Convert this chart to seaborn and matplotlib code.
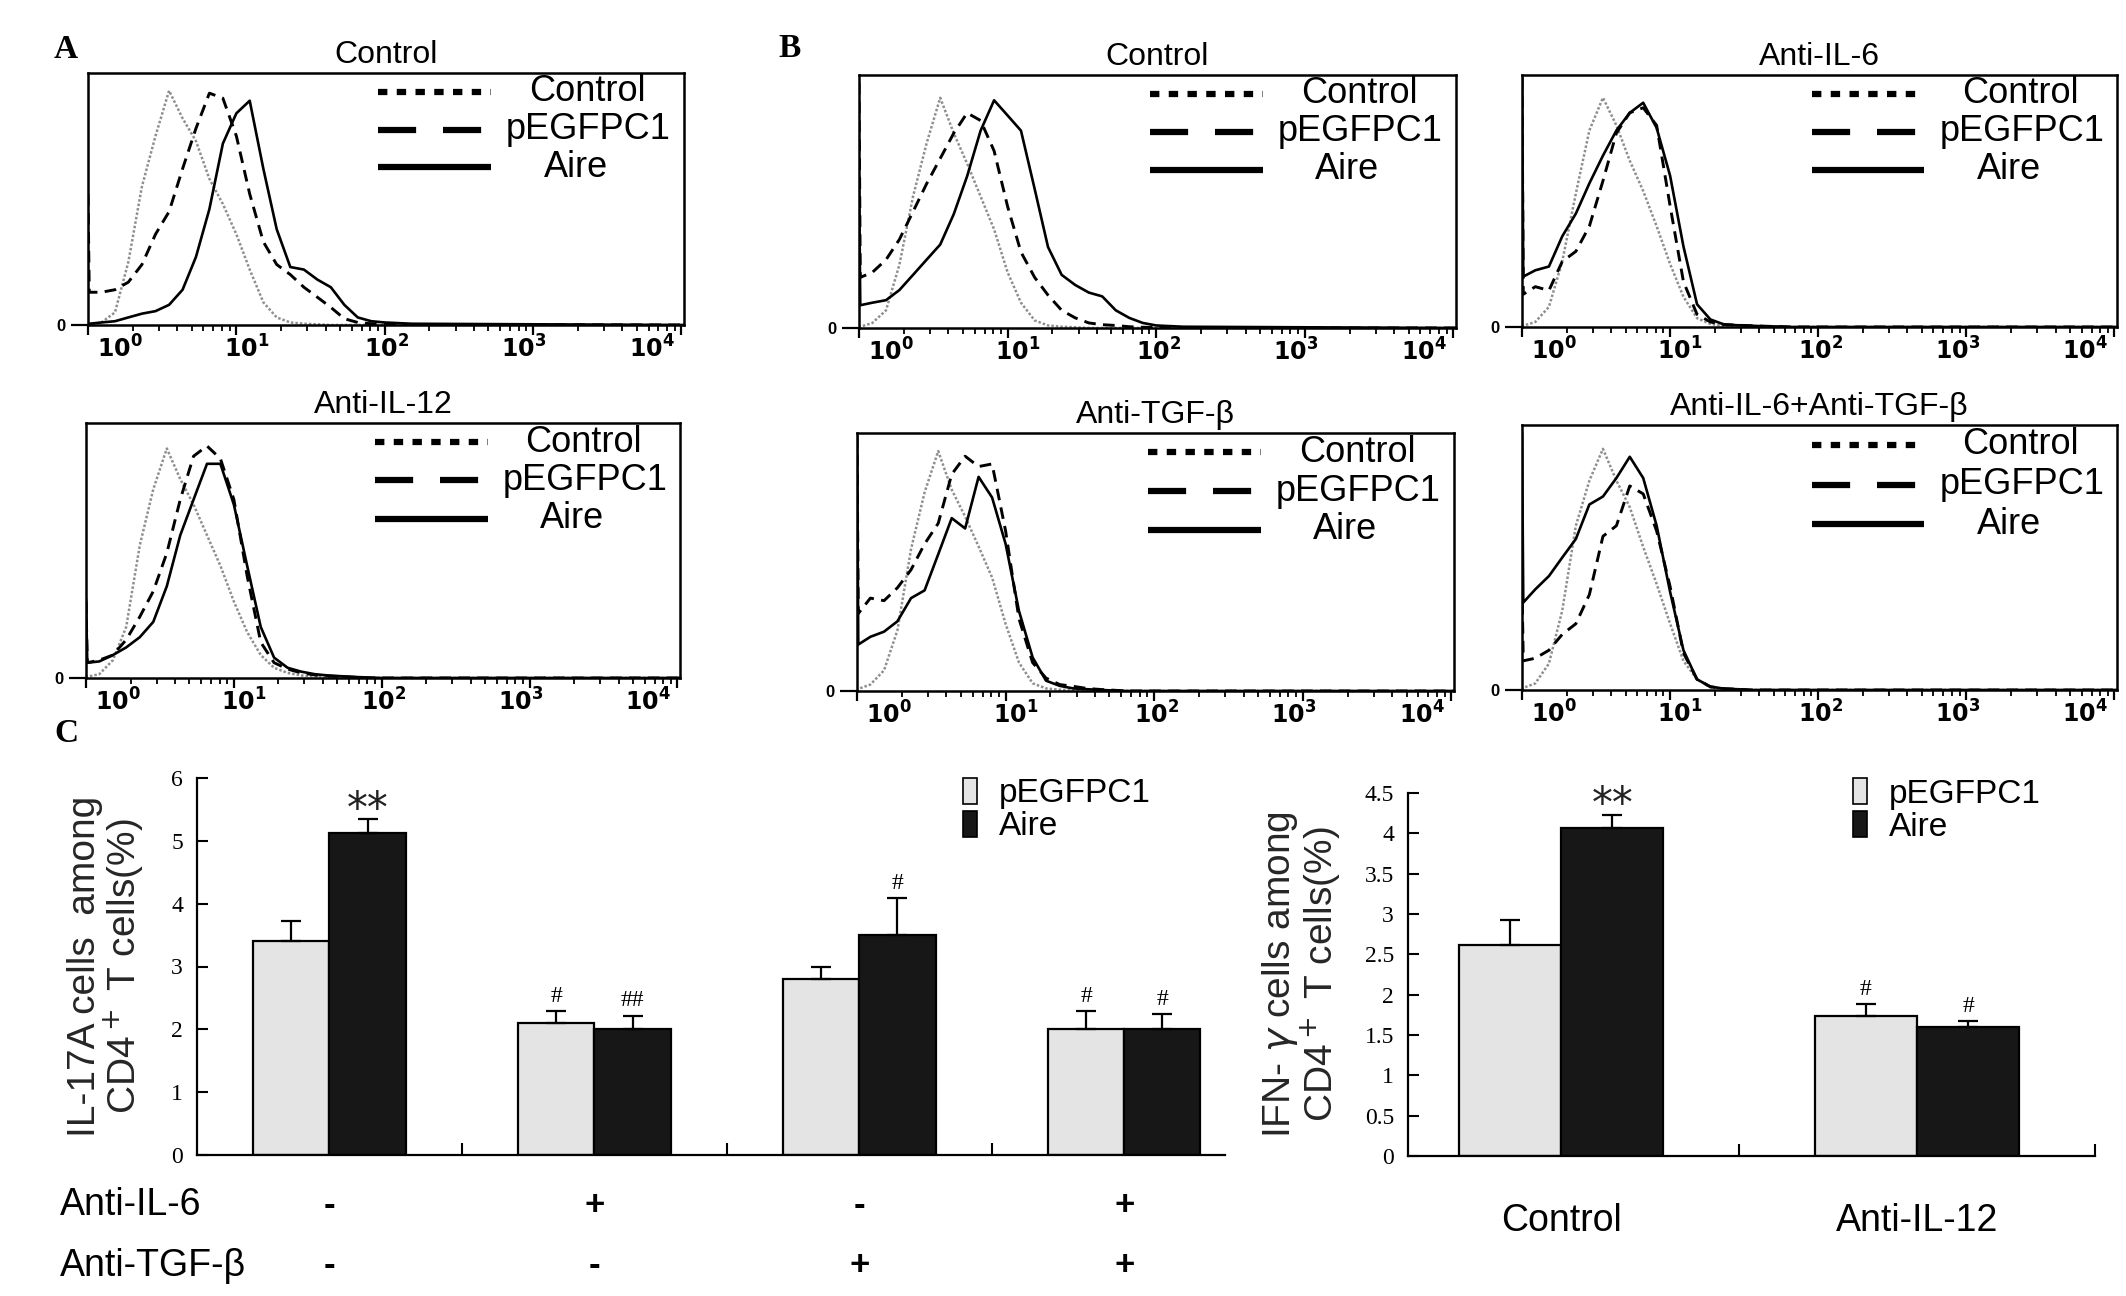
import numpy as np
import pandas as pd
import matplotlib
matplotlib.use('Agg')
import matplotlib.pyplot as plt
import matplotlib.ticker as mticker
import matplotlib.transforms as mtransforms
from matplotlib.lines import Line2D
from matplotlib.patches import Patch
import seaborn as sns

sns.set_theme(style='white')
plt.rcParams['font.family'] = ['Liberation Sans', 'DejaVu Sans']
plt.rcParams['mathtext.fontset'] = 'dejavusans'
plt.rcParams['text.color'] = 'black'
plt.rcParams['axes.edgecolor'] = 'black'
plt.rcParams['xtick.color'] = 'black'
plt.rcParams['ytick.color'] = 'black'

# ---- flow histograms: fluorescence channel grid (shared by all curves) ----
channels = [1.0, 1.02, 1.23, 1.52, 1.87, 2.31, 2.85, 3.52, 4.34, 5.34, 6.58, 8.11, 10.0,
            12.3, 15.2, 18.7, 23.1, 28.5, 35.2, 43.3, 53.4, 65.8, 81.1, 100, 152, 10400]
hist_ticks = [1, 10, 100, 1000, 10000]
hist_tick_labels = [r'$\mathbf{10^{0}}$', r'$\mathbf{10^{1}}$', r'$\mathbf{10^{2}}$',
                    r'$\mathbf{10^{3}}$', r'$\mathbf{10^{4}}$']

# A, Control
a1_control = [0, 0, 1, 5, 25, 55, 75, 93, 82, 73, 58, 48, 36, 22, 9, 3, 1, 0.5, 0.3, 0, 0, 0, 0, 0, 0, 0]
a1_pegfp = [52, 13, 13, 14, 17, 24, 36, 45, 62, 78, 92, 90, 75, 52, 33, 24, 20, 15, 11, 7, 2.5, 1, 0.5, 0.3, 0.2, 0]
a1_aire = [0, 0.5, 1, 1.5, 3, 4.5, 5.5, 8, 14, 27, 46, 72, 84, 89, 62, 38, 23, 22, 18, 15, 8, 3, 1.5, 1, 0.5, 0]
# A, Anti-IL-12
a2_control = [0, 0.5, 1.5, 7, 20, 52, 74, 90, 78, 68, 56, 44, 30, 18, 9, 4, 2, 1, 0.5, 0.3, 0, 0, 0, 0, 0, 0]
a2_pegfp = [30, 6, 7, 9, 15, 24, 34, 49, 70, 87, 91, 86, 70, 40, 14, 6, 3.5, 2, 1.2, 0.8, 0.5, 0.3, 0, 0, 0, 0]
a2_aire = [31, 6, 6.5, 9, 12, 16, 22, 36, 56, 70, 84, 84, 68, 44, 20, 8, 4, 2.5, 1.5, 1, 0.7, 0.4, 0.2, 0, 0, 0]
# B, Control
b1_control = [0, 0.5, 2, 7, 25, 52, 73, 91, 77, 65, 52, 39, 22, 10, 3, 1, 0.5, 0.3, 0, 0, 0, 0, 0, 0, 0, 0]
b1_pegfp = [97, 20, 22, 27, 35, 46, 57, 67, 77, 85, 82, 70, 48, 30, 20, 13, 7, 4, 2, 1.3, 1, 0.5, 0.3, 0.2, 0, 0]
b1_aire = [60, 9, 10, 11, 15, 21, 27, 33, 45, 60, 78, 90, 84, 78, 55, 32, 21, 17, 14, 12.5, 7, 4, 2, 1, 0.5, 0]
# B, Anti-IL-6
b2_control = [0, 0.5, 2, 8, 26, 53, 78, 91, 80, 66, 54, 40, 25, 12, 3.5, 1.2, 0.5, 0.3, 0, 0, 0, 0, 0, 0, 0, 0]
b2_pegfp = [99, 13, 16, 14.5, 26, 30, 40, 58, 77, 85, 87, 80, 48, 18, 5, 2, 1, 0.7, 0.5, 0.3, 0.2, 0, 0, 0, 0, 0]
b2_aire = [99, 20, 22.5, 24, 36, 45, 57, 68, 78, 85, 89, 79, 60, 32, 9, 3, 1, 0.7, 0.5, 0.3, 0.2, 0, 0, 0, 0, 0]
# B, Anti-TGF-beta
b3_control = [0, 0.8, 2.5, 8, 23.5, 55, 77, 93, 78, 67.6, 56, 44, 26, 11, 3, 1, 0.5, 0.3, 0, 0, 0, 0, 0, 0, 0, 0]
b3_pegfp = [99, 30, 36, 35, 40, 47, 57, 65, 84, 91, 87, 88, 62, 28, 11, 5, 2.5, 1.8, 1, 0.6, 0.3, 0, 0, 0, 0, 0]
b3_aire = [99, 18, 21, 23, 27, 36, 39, 53, 67, 63, 83, 75, 57, 31, 13, 4, 2, 1, 0.7, 0.4, 0.2, 0, 0, 0, 0, 0]
# B, Anti-IL-6 + Anti-TGF-beta
b4_control = [0, 0.8, 2.5, 10, 30, 62, 79, 91, 79, 69, 54, 40, 25, 11, 4, 1, 0.4, 0.2, 0, 0, 0, 0, 0, 0, 0, 0]
b4_pegfp = [40, 11, 12, 15, 21, 25, 36, 58, 62, 77, 74, 60, 39, 14, 4, 1.2, 0.5, 0.3, 0, 0, 0, 0, 0, 0, 0, 0]
b4_aire = [97, 33, 38, 43, 50, 57, 70, 73, 80, 88, 80, 62, 37, 15, 4, 1.3, 0.5, 0.3, 0, 0, 0, 0, 0, 0, 0, 0]

legend_labels = ['Control', 'pEGFPC1', 'Aire']

# ---- C: bar charts ----
il17_groups = ['-/-', '+/-', '-/+', '+/+']
il17_peg = [3.4, 2.1, 2.8, 2.0]
il17_peg_err = [0.33, 0.19, 0.2, 0.29]
il17_aire = [5.12, 2.0, 3.5, 2.0]
il17_aire_err = [0.22, 0.22, 0.59, 0.24]
il17_marks_peg = ['', '#', '', '#']
il17_marks_aire = ['**', '##', '#', '#']
anti_il6 = ['-', '+', '-', '+']
anti_tgf = ['-', '-', '+', '+']

ifn_groups = ['Control', 'Anti-IL-12']
ifn_peg = [2.61, 1.73]
ifn_peg_err = [0.31, 0.15]
ifn_aire = [4.07, 1.60]
ifn_aire_err = [0.16, 0.07]
ifn_marks_peg = ['', '#']
ifn_marks_aire = ['**', '#']

W, H = 2126, 1296
fig = plt.figure(figsize=(W / 100, H / 100), dpi=100)


def rect(x0, x1, ytop, ybot):
    return [x0 / W, 1 - ybot / H, (x1 - x0) / W, (ybot - ytop) / H]


# the exported decade labels sit a little off their ticks (pixels)
label_shift = [32, 10, 2, -9, -30]


def draw_hist(ax, title, control, pegfp, aire):
    df = pd.DataFrame({'channel': channels, 'Control': control,
                       'pEGFPC1': pegfp, 'Aire': aire})
    ax.set_xscale('log')
    sns.lineplot(data=df, x='channel', y='Control', ax=ax, color='#8f8f8f',
                 linewidth=1.8, linestyle=(0, (1, 0.8)))
    sns.lineplot(data=df, x='channel', y='pEGFPC1', ax=ax, color='black',
                 linewidth=2.1, linestyle=(0, (4, 2.5)))
    sns.lineplot(data=df, x='channel', y='Aire', ax=ax, color='black', linewidth=1.9)
    ax.set_xlim(channels[0], channels[-1])
    ax.set_ylim(0, 100)
    ax.set_xlabel('')
    ax.set_ylabel('')
    ax.set_title(title, fontsize=23, pad=7)
    ax.xaxis.set_major_locator(mticker.FixedLocator(hist_ticks))
    ax.xaxis.set_minor_locator(mticker.LogLocator(base=10, subs=range(2, 10)))
    ax.xaxis.set_major_formatter(mticker.NullFormatter())
    ax.xaxis.set_minor_formatter(mticker.NullFormatter())
    ax.tick_params(axis='x', which='major', direction='out', bottom=True,
                   length=7, width=1.6)
    ax.tick_params(axis='x', which='minor', direction='out', bottom=True,
                   length=4, width=1.3)
    tr = mtransforms.blended_transform_factory(ax.transData, ax.transAxes)
    for t, lab, dx in zip(hist_ticks, hist_tick_labels, label_shift):
        off = mtransforms.offset_copy(tr, fig=fig, x=dx, y=-10, units='dots')
        ax.text(t, 0, lab, transform=off, ha='center', va='top', fontsize=17)
    ax.set_yticks([0])
    ax.set_yticklabels(['0'], fontsize=12, fontweight='bold')
    ax.tick_params(axis='y', direction='out', left=True, length=12, width=1.6, pad=4)
    for sp in ax.spines.values():
        sp.set_visible(True)
        sp.set_linewidth(1.8)
        sp.set_color('black')
    styles = [dict(linestyle=(0, (1.5, 1.5))), dict(linestyle=(0, (6.1, 4.3))),
              dict(linestyle='-')]
    rows = [0.925, 0.775, 0.625]
    text_x = [0.838, 0.84, 0.818]
    for yy, tx, lab, st in zip(rows, text_x, legend_labels, styles):
        ax.add_line(Line2D([0.487, 0.676], [yy, yy], transform=ax.transAxes,
                           color='black', linewidth=4.5, dash_capstyle='butt',
                           solid_capstyle='butt', **st))
        ax.text(tx, yy, lab, transform=ax.transAxes, ha='center', va='center',
                fontsize=26)


hist_panels = [
    ('Control', rect(88, 684, 73, 325), a1_control, a1_pegfp, a1_aire),
    ('Anti-IL-12', rect(86, 680, 423, 678), a2_control, a2_pegfp, a2_aire),
    ('Control', rect(859, 1456, 75, 328), b1_control, b1_pegfp, b1_aire),
    ('Anti-IL-6', rect(1522, 2117, 75, 327), b2_control, b2_pegfp, b2_aire),
    ('Anti-TGF-β', rect(857, 1454, 433, 691), b3_control, b3_pegfp, b3_aire),
    ('Anti-IL-6+Anti-TGF-β', rect(1522, 2117, 425, 690), b4_control, b4_pegfp, b4_aire),
]
for title, r, c, p, a in hist_panels:
    draw_hist(fig.add_axes(r), title, c, p, a)

palette = {'pEGFPC1': '#e4e4e4', 'Aire': '#171717'}


def draw_bars(ax, groups, peg, peg_err, aire, aire_err, marks_peg, marks_aire,
              ymax, ystep):
    df = pd.DataFrame({'group': groups * 2,
                       'construct': ['pEGFPC1'] * len(groups) + ['Aire'] * len(groups),
                       'value': peg + aire})
    sns.barplot(data=df, x='group', y='value', hue='construct', palette=palette,
                width=0.575, edgecolor='black', linewidth=1.6, saturation=1,
                errorbar=None, legend=False, ax=ax)
    bars = sorted([b for b in ax.patches if b.get_height() > 0],
                  key=lambda b: b.get_x())
    centers = [b.get_x() + b.get_width() / 2 for b in bars]
    heights = [b.get_height() for b in bars]
    errs, marks = [], []
    for i in range(len(groups)):
        errs += [peg_err[i], aire_err[i]]
        marks += [marks_peg[i], marks_aire[i]]
    ax.errorbar(centers, heights, yerr=[np.zeros(len(errs)), errs], fmt='none',
                ecolor='black', elinewidth=1.6, capsize=7, capthick=1.6)
    for xc, h, e, m in zip(centers, heights, errs, marks):
        if m == '**':
            ax.annotate(m, (xc, h + e), xytext=(0, -8), textcoords='offset points',
                        ha='center', va='bottom', fontsize=30, family='DejaVu Sans',
                        color='#222222')
        elif m:
            ax.annotate(m, (xc, h + e), xytext=(0, 3), textcoords='offset points',
                        ha='center', va='bottom', fontsize=17, family='Liberation Serif')
    ax.set_ylim(0, ymax)
    ax.set_yticks(np.arange(0, ymax + ystep / 2, ystep))
    ax.yaxis.set_major_formatter(mticker.FuncFormatter(lambda v, p: '{:g}'.format(v)))
    for lab in ax.get_yticklabels():
        lab.set_family('Liberation Serif')
        lab.set_fontsize(17)
    ax.tick_params(axis='y', direction='in', left=True, length=8, width=1.5, pad=10)
    ax.set_xticks(range(len(groups)))
    ax.set_xticks([i + 0.5 for i in range(len(groups))], minor=True)
    ax.tick_params(axis='x', which='minor', direction='in', bottom=True,
                   length=9, width=1.5)
    ax.tick_params(axis='x', which='major', length=0)
    ax.set_xlabel('')
    for s in ['top', 'right']:
        ax.spines[s].set_visible(False)
    for s in ['left', 'bottom']:
        ax.spines[s].set_linewidth(1.6)
        ax.spines[s].set_color('black')


def bar_legend(ax, anchor):
    handles = [Patch(facecolor=palette[k], edgecolor='black', linewidth=1.2)
               for k in ['pEGFPC1', 'Aire']]
    ax.legend(handles, ['pEGFPC1', 'Aire'], loc='upper left', bbox_to_anchor=anchor,
              frameon=False, handlelength=0.42, handleheight=0.8, handletextpad=0.65,
              labelspacing=0.05, fontsize=24, borderaxespad=0, borderpad=0)


# C left: IL-17A
ax1 = fig.add_axes(rect(197, 1225, 778, 1155))
draw_bars(ax1, il17_groups, il17_peg, il17_peg_err, il17_aire, il17_aire_err,
          il17_marks_peg, il17_marks_aire, 6, 1)
ax1.set_xlim(-0.5, 3.38)
ax1.set_xticklabels([])
ax1.set_ylabel('IL-17A cells  among\nCD4$^+$ T cells(%)', fontsize=28, linespacing=0.95)
ax1.yaxis.set_label_coords(-0.05, 0.5)
bar_legend(ax1, (0.745, 1.0))
tr = mtransforms.blended_transform_factory(ax1.transData, fig.transFigure)
fig.text(60 / W, 1 - 1205 / H, 'Anti-IL-6', fontsize=27, va='center', ha='left')
fig.text(60 / W, 1 - 1266 / H, 'Anti-TGF-β', fontsize=27, va='center', ha='left')
for i, (s6, st) in enumerate(zip(anti_il6, anti_tgf)):
    ax1.text(i, 1 - 1205 / H, s6, transform=tr, ha='center', va='center',
             fontsize=25, fontweight='bold')
    ax1.text(i, 1 - 1266 / H, st, transform=tr, ha='center', va='center',
             fontsize=25, fontweight='bold')

# C right: IFN-gamma
ax2 = fig.add_axes(rect(1408, 2095, 793, 1156))
draw_bars(ax2, ifn_groups, ifn_peg, ifn_peg_err, ifn_aire, ifn_aire_err,
          ifn_marks_peg, ifn_marks_aire, 4.5, 0.5)
ax2.set_xlim(-0.43, 1.5)
ax2.set_xticklabels(ifn_groups, fontsize=27)
ax2.tick_params(axis='x', which='major', pad=34)
ax2.set_ylabel('IFN- $\\gamma$ cells among\nCD4$^+$ T cells(%)', fontsize=28,
               linespacing=0.95)
ax2.yaxis.set_label_coords(-0.095, 0.5)
bar_legend(ax2, (0.648, 1.04))

# panel letters
for letter, x, y in [('A', 54, 58), ('B', 778, 57), ('C', 54, 742)]:
    fig.text(x / W, 1 - y / H, letter, fontsize=24, fontweight='bold',
             family='Liberation Serif', va='baseline', ha='left')

fig.savefig('out.png', dpi=100)
